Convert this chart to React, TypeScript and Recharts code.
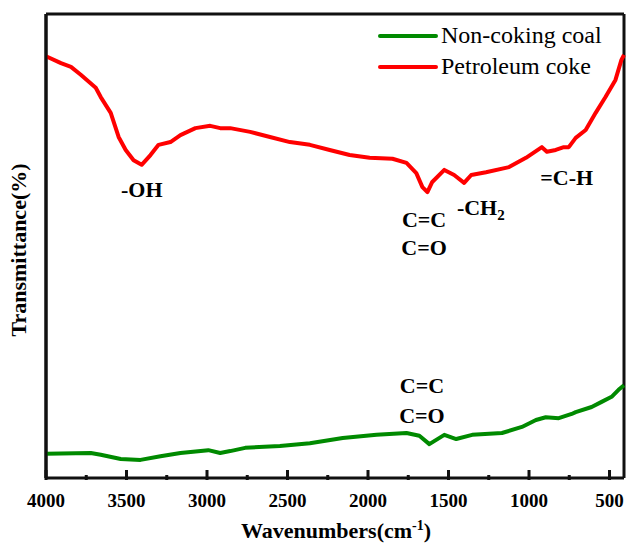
import React from 'react'
import { ComposedChart, Line, ReferenceLine, Scatter, XAxis, YAxis } from 'recharts'

// Petroleum coke spectrum (wavenumber, transmittance in arbitrary %)
const cokeWn = [4000, 3907, 3845, 3784, 3691, 3660, 3598, 3549, 3505, 3456, 3406, 3351, 3301, 3227, 3165, 3072, 2980, 2918, 2856, 2732, 2609, 2485, 2361, 2238, 2114, 1990, 1848, 1761, 1700, 1662, 1631, 1601, 1526, 1465, 1403, 1359, 1267, 1124, 1019, 920, 889, 834, 784, 753, 710, 648, 586, 525, 463, 426, 410]
const cokeT = [90.9, 89.4, 88.6, 86.9, 84.1, 82.1, 78.7, 73.5, 70.7, 68.5, 67.5, 69.6, 71.8, 72.4, 73.9, 75.4, 75.9, 75.4, 75.4, 74.6, 73.5, 72.4, 71.8, 70.7, 69.6, 69.0, 68.8, 67.9, 65.7, 62.7, 61.6, 63.8, 66.4, 65.3, 63.6, 65.3, 65.9, 67.0, 69.0, 71.3, 70.3, 70.7, 71.3, 71.3, 73.3, 75.0, 78.7, 82.1, 85.8, 90.1, 91.2]

// Non-coking coal spectrum
const coalWn = [4000, 3722, 3660, 3536, 3413, 3289, 3165, 2992, 2918, 2856, 2763, 2547, 2361, 2157, 1947, 1761, 1681, 1619, 1526, 1452, 1353, 1168, 1044, 957, 896, 815, 735, 710, 611, 549, 487, 444, 410]
const coalT = [5.2, 5.4, 5.0, 4.1, 3.9, 4.7, 5.4, 6.0, 5.4, 5.8, 6.5, 6.9, 7.5, 8.6, 9.3, 9.7, 9.1, 7.3, 9.3, 8.4, 9.3, 9.7, 11.0, 12.5, 13.1, 12.9, 13.8, 14.2, 15.3, 16.4, 17.5, 19.0, 20.0]

// band assignments
const bandLabels = ['-OH', 'C=C', 'C=O', '-CH2', '=C-H', 'C=C', 'C=O']
const bandWn = [3405, 1652, 1652, 1448, 766, 1665, 1665]
const bandT = [60.6, 54.1, 48.1, 56.7, 63.1, 18.3, 11.9]

const tickValues = [4000, 3750, 3500, 3250, 3000, 2750, 2500, 2250, 2000, 1750, 1500, 1250, 1000, 750, 500]

const seriesNames = ['Non-coking coal', 'Petroleum coke']
const seriesColors = ['#008a00', '#ff0000']

const cokeData = cokeWn.map((wn, i) => ({ wn, t: cokeT[i] }))
const coalData = coalWn.map((wn, i) => ({ wn, t: coalT[i] }))
const bandData = bandLabels.map((label, i) => ({ label, t: bandT[i], wn: bandWn[i] }))

const serif = 'Liberation Serif, Times New Roman, serif'
const ink = '#111111'

const AxisTick = (props: any) => {
    const { x, y, payload } = props
    const major = payload.value % 500 === 0
    const len = major ? 10 : 5
    return (
        <g>
            <rect fill={ink} height={len} width={3} x={x - 1.5} y={y - len} />
            {major && (
                <text fill="#000" fontFamily={serif} fontSize={19} fontWeight="bold" textAnchor="middle" x={x} y={y + 27}>
                    {payload.value}
                </text>
            )}
        </g>
    )
}

// text drawn at the scaled band position
const BandText = (props: any) => {
    const { cx, cy, payload } = props
    if (payload.label === '-CH2') {
        return (
            <text fill="#000" fontFamily={serif} fontSize={22} fontWeight="bold" textAnchor="start" x={cx} y={cy}>
                -CH
                <tspan dy={5} fontSize={15}>2</tspan>
            </text>
        )
    }
    return (
        <text fill="#000" fontFamily={serif} fontSize={22} fontWeight="bold" textAnchor="middle" x={cx} y={cy}>
            {payload.label}
        </text>
    )
}

const LegendBox = () => (
    <div style={{ left: 378, position: 'absolute', top: 20 }}>
        {seriesNames.map((name, i) => (
            <div key={name} style={{ alignItems: 'center', display: 'flex', height: 31 }}>
                <svg height={6} width={60}>
                    <line stroke={seriesColors[i]} strokeLinecap="round" strokeWidth={4} x1={2} x2={58} y1={3} y2={3} />
                </svg>
                <span style={{ color: '#000', fontFamily: serif, fontSize: 24, marginLeft: 3, whiteSpace: 'nowrap' }}>{name}</span>
            </div>
        ))}
    </div>
)

const titleStyle: React.CSSProperties = { color: '#000', fontFamily: serif, fontSize: 22, fontWeight: 'bold', position: 'absolute', whiteSpace: 'nowrap' }

const frame = { stroke: ink, strokeWidth: 3 }

export default function App() {
    return (
        <div style={{ background: '#fff', height: 547, left: 0, position: 'absolute', top: 0, width: 629 }}>
            <ComposedChart height={547} margin={{ bottom: 0, left: 0, right: 5, top: 14 }} width={629}>
                <XAxis
                    axisLine={frame}
                    dataKey="wn"
                    domain={[410, 4000]}
                    height={69}
                    reversed
                    tick={<AxisTick />}
                    tickLine={false}
                    tickSize={0}
                    ticks={tickValues}
                    type="number"
                />
                <YAxis axisLine={frame} domain={[0, 100]} tick={false} tickLine={false} type="number" width={46} />
                <ReferenceLine stroke={ink} strokeWidth={3} y={100} />
                <ReferenceLine stroke={ink} strokeWidth={3} x={410} />
                <ReferenceLine stroke={ink} strokeWidth={3} x={4000} />
                <Line data={coalData} dataKey="t" dot={false} isAnimationActive={false} name={seriesNames[0]} stroke={seriesColors[0]} strokeLinejoin="round" strokeWidth={4} type="linear" />
                <Line data={cokeData} dataKey="t" dot={false} isAnimationActive={false} name={seriesNames[1]} stroke={seriesColors[1]} strokeLinejoin="round" strokeWidth={4} type="linear" />
                <Scatter data={bandData} dataKey="t" isAnimationActive={false} shape={<BandText />} />
            </ComposedChart>
            <LegendBox />
            <div style={{ ...titleStyle, left: 336, top: 518, transform: 'translateX(-50%)' }}>
                Wavenumbers(cm<sup style={{ fontSize: 14 }}>-1</sup>)
            </div>
            <div style={{ ...titleStyle, left: 19, top: 250, transform: 'translate(-50%, -50%) rotate(-90deg)' }}>Transmittance(%)</div>
        </div>
    )
}
